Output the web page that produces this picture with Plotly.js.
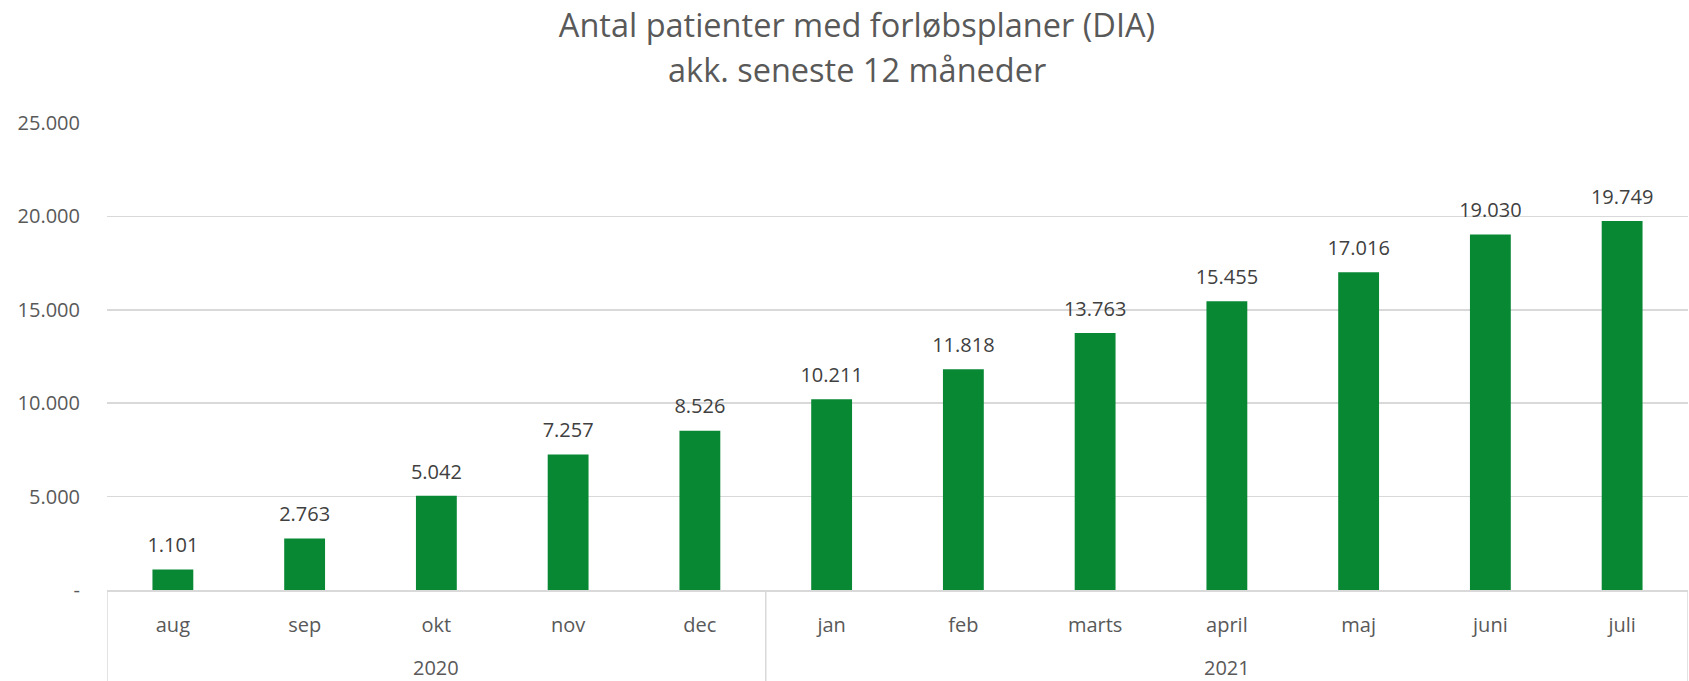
<!DOCTYPE html>
<html>
<head>
<meta charset="utf-8">
<script src="https://cdn.plot.ly/plotly-3.0.1.min.js"></script>
<style>html,body{margin:0;padding:0;background:#fff;}#chart{width:1689px;height:681px;}</style>
</head>
<body>
<div id="chart"></div>
<script>
const years = ['2020','2020','2020','2020','2020','2021','2021','2021','2021','2021','2021','2021'];
const months = ['aug','sep','okt','nov','dec','jan','feb','marts','april','maj','juni','juli'];
const values = [1101, 2763, 5042, 7257, 8526, 10211, 11818, 13763, 15455, 17016, 19030, 19749];
const yTickVals = [0, 5000, 10000, 15000, 20000, 25000];
const yTickText = ['-', '5.000', '10.000', '15.000', '20.000', '25.000'];
const titleLine1 = 'Antal patienter med forløbsplaner (DIA)';
const titleLine2 = 'akk. seneste 12 måneder';

const FONT = 'Open Sans, sans-serif';
const GRAY = '#d9d9d9';

// group the months by year: boundaries and centres on the category axis
const groups = [];
years.forEach((yr, i) => {
  const g = groups[groups.length - 1];
  if (g && g.name === yr) { g.end = i; } else { groups.push({name: yr, start: i, end: i}); }
});

const shapes = [];
const annotations = [];
groups.forEach((g, k) => {
  if (k === 0) {
    shapes.push({type: 'line', xref: 'x', yref: 'paper', x0: g.start - 0.5, x1: g.start - 0.5,
      y0: 0, y1: -0.195, line: {color: GRAY, width: 1.5}});
  }
  shapes.push({type: 'line', xref: 'x', yref: 'paper', x0: g.end + 0.5, x1: g.end + 0.5,
    y0: 0, y1: -0.195, line: {color: GRAY, width: 1.5}});
  annotations.push({xref: 'x', yref: 'paper', x: (g.start + g.end) / 2, y: -0.165,
    text: g.name, showarrow: false, xanchor: 'center', yanchor: 'middle',
    font: {family: FONT, size: 20, color: '#595959'}});
});
annotations.push({xref: 'paper', yref: 'paper', x: 0.4744, y: 1.1156, text: titleLine2,
  showarrow: false, xanchor: 'center', yanchor: 'middle',
  font: {family: FONT, size: 32.5, color: '#595959'}});

const bars = {
  type: 'bar',
  x: months,
  y: values,
  marker: {color: '#098834'},
  hoverinfo: 'skip'
};
const labels = {
  type: 'scatter',
  mode: 'markers+text',
  x: months,
  y: values,
  texttemplate: '%{y:,.0f}',
  textposition: 'top center',
  textfont: {family: FONT, size: 20, color: '#404040'},
  marker: {size: 18, color: 'rgba(0,0,0,0)'},
  hoverinfo: 'skip',
  showlegend: false
};

const layout = {
  width: 1689,
  height: 681,
  margin: {l: 107, r: 1, t: 123, b: 91},
  paper_bgcolor: '#ffffff',
  plot_bgcolor: '#ffffff',
  separators: ',.',
  showlegend: false,
  bargap: 0.69,
  font: {family: FONT, size: 20, color: '#595959'},
  title: {
    text: titleLine1,
    font: {family: FONT, size: 32.5, color: '#595959'},
    x: 0.5074, xanchor: 'center',
    xref: 'container',
    y: 0.9619, yanchor: 'middle'
  },
  shapes: shapes,
  annotations: annotations,
  xaxis: {
    type: 'category',
    range: [-0.5, 11.5],
    showline: true,
    linecolor: GRAY,
    linewidth: 1.5,
    showgrid: false,
    zeroline: false,
    ticks: '',
    ticklabelstandoff: 16,
    tickfont: {family: FONT, size: 20, color: '#595959'}
  },
  yaxis: {
    range: [0, 25000],
    tickvals: yTickVals,
    ticktext: yTickText,
    showgrid: true,
    gridcolor: GRAY,
    gridwidth: 1.5,
    zeroline: false,
    showline: false,
    ticks: '',
    ticklabelstandoff: 26,
    tickfont: {family: FONT, size: 20, color: '#595959'}
  }
};

Plotly.newPlot('chart', [bars, labels], layout, {displayModeBar: false, staticPlot: true});
</script>
</body>
</html>
